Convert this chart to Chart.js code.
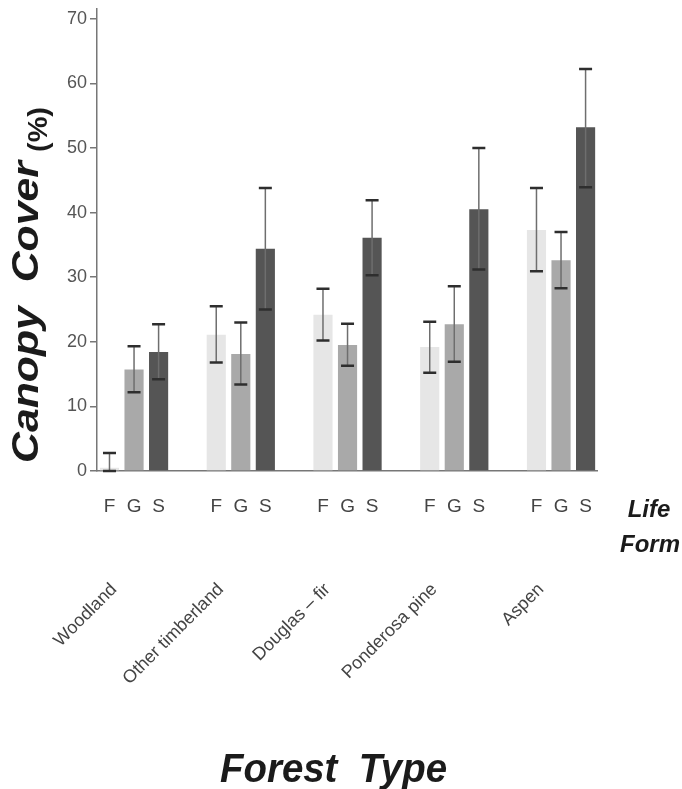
<!DOCTYPE html>
<html><head><meta charset="utf-8">
<script src="https://cdn.jsdelivr.net/npm/chart.js@4.4.1/dist/chart.umd.min.js"></script>
<style>html,body{margin:0;padding:0;background:#fff;}</style>
</head><body>
<canvas id="c" width="682" height="789"></canvas>
<script>
// ---- data ----
const categories = ['Woodland', 'Other timberland', 'Douglas \u2013 fir', 'Ponderosa pine', 'Aspen'];
const lifeForms = ['F', 'G', 'S'];
const yTicks = [0, 10, 20, 30, 40, 50, 60, 70];

const forbMean  = [0.5, 21.1, 24.2, 19.2, 37.3];
const forbLow   = [0.0, 16.8, 20.2, 15.2, 30.9];
const forbHigh  = [2.8, 25.5, 28.2, 23.1, 43.8];

const gramMean  = [15.7, 18.1, 19.5, 22.7, 32.6];
const gramLow   = [12.2, 13.4, 16.3, 16.9, 28.3];
const gramHigh  = [19.3, 23.0, 22.8, 28.6, 37.0];

const shrubMean = [18.4, 34.4, 36.1, 40.5, 53.2];
const shrubLow  = [14.2, 25.0, 30.3, 31.2, 43.9];
const shrubHigh = [22.7, 43.8, 41.9, 50.0, 62.2];

const FONT = '"Liberation Sans", Arial, Helvetica, sans-serif';
const lows = [forbLow, gramLow, shrubLow];
const highs = [forbHigh, gramHigh, shrubHigh];

const errorBars = {
  id: 'errorBars',
  afterDatasetsDraw(chart) {
    const ctx = chart.ctx, ys = chart.scales.y;
    chart.data.datasets.forEach((ds, d) => {
      const meta = chart.getDatasetMeta(d);
      meta.data.forEach((el, i) => {
        const x = el.x;
        const yH = ys.getPixelForValue(highs[d][i]);
        const yL = ys.getPixelForValue(lows[d][i]);
        ctx.save();
        ctx.strokeStyle = '#6e6e6e';
        ctx.lineWidth = 1.5;
        ctx.beginPath(); ctx.moveTo(x, yH); ctx.lineTo(x, yL); ctx.stroke();
        ctx.strokeStyle = '#2e2e2e';
        ctx.lineWidth = 2.5;
        ctx.beginPath();
        ctx.moveTo(x - 6.5, yH); ctx.lineTo(x + 6.5, yH);
        ctx.moveTo(x - 6.5, yL); ctx.lineTo(x + 6.5, yL);
        ctx.stroke();
        ctx.restore();
      });
    });
  }
};

const lifeFormLabels = {
  id: 'lifeFormLabels',
  afterDraw(chart) {
    const ctx = chart.ctx;
    ctx.save();
    ctx.fillStyle = '#444';
    ctx.font = '19px ' + FONT;
    ctx.textAlign = 'center';
    ctx.textBaseline = 'alphabetic';
    chart.data.datasets.forEach((ds, d) => {
      chart.getDatasetMeta(d).data.forEach(el => {
        ctx.fillText(lifeForms[d], el.x, chart.chartArea.bottom + 41);
      });
    });
    ctx.restore();
  }
};

function spanText(ctx, text, font, len) {
  ctx.font = font;
  const w = ctx.measureText(text).width;
  ctx.save();
  ctx.scale(len / w, 1);
  ctx.fillText(text, 0, 0);
  ctx.restore();
}

const titles = {
  id: 'titles',
  afterDraw(chart) {
    const ctx = chart.ctx;
    ctx.save();
    ctx.fillStyle = '#1b1b1b';
    ctx.textAlign = 'left';
    ctx.textBaseline = 'alphabetic';
    ctx.save();
    ctx.translate(38, 463);
    ctx.rotate(-Math.PI / 2);
    spanText(ctx, 'Canopy  Cover', 'italic bold 36px ' + FONT, 302);
    ctx.restore();
    ctx.save();
    ctx.translate(47, 152);
    ctx.rotate(-Math.PI / 2);
    spanText(ctx, '(%)', 'bold 28px ' + FONT, 45);
    ctx.restore();
    ctx.save();
    ctx.translate(220, 782);
    spanText(ctx, 'Forest  Type', 'italic bold 40px ' + FONT, 227);
    ctx.restore();
    ctx.textAlign = 'center';
    ctx.font = 'italic bold 24px ' + FONT;
    ctx.fillText('Life', 649, 517);
    ctx.fillText('Form', 650, 552);
    ctx.restore();
  }
};

const mk = (arr) => arr.map((v, i) => ({ x: i, y: v }));

new Chart(document.getElementById('c'), {
  type: 'bar',
  data: {
    datasets: [
      { label: 'F', data: mk(forbMean), backgroundColor: '#e6e6e6' },
      { label: 'G', data: mk(gramMean), backgroundColor: '#a9a9a9' },
      { label: 'S', data: mk(shrubMean), backgroundColor: '#555555' }
    ]
  },
  options: {
    responsive: false,
    animation: false,
    layout: { padding: { left: 50, right: 85, top: 9, bottom: 0 } },
    plugins: { legend: { display: false }, tooltip: { enabled: false } },
    datasets: { bar: { categoryPercentage: 0.69, barPercentage: 0.78 } },
    scales: {
      x: {
        type: 'linear', min: -0.347, max: 4.337, offset: false,
        grid: { display: false },
        border: { display: true, color: '#777', width: 1.5 },
        afterBuildTicks(s) { s.ticks = categories.map((c, i) => ({ value: i })); },
        afterFit(s) { s.height = 318; s.paddingLeft = 0; s.paddingRight = 0; },
        ticks: {
          autoSkip: false, maxRotation: 45, minRotation: 45, padding: 100, labelOffset: -20,
          color: '#444', font: { family: FONT, size: 18 },
          callback: (v) => categories[v]
        }
      },
      y: {
        min: 0, max: 71.5,
        afterBuildTicks(s) { s.ticks = yTicks.map(v => ({ value: v })); },
        afterFit(s) { s.width = 47; s.paddingTop = 0; s.paddingBottom = 0; },
        grid: { drawOnChartArea: false, drawTicks: true, tickLength: 7, color: '#777', lineWidth: 1.5 },
        border: { color: '#777', width: 1.5 },
        ticks: { padding: 3, color: '#555', font: { family: FONT, size: 18 } }
      }
    }
  },
  plugins: [errorBars, lifeFormLabels, titles]
});
</script>
</body></html>
